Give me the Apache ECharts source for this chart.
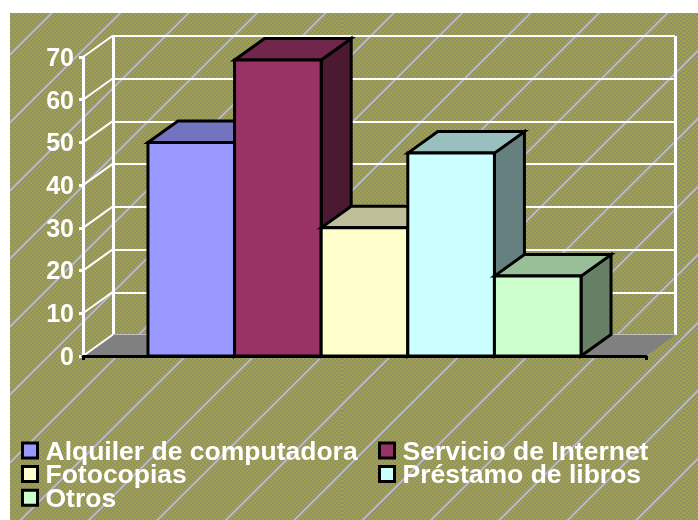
<!DOCTYPE html>
<html>
<head>
<meta charset="utf-8">
<script src="https://cdn.jsdelivr.net/npm/echarts@6/dist/echarts.min.js"></script>
<style>
html, body { margin: 0; padding: 0; background: #fff; }
#chart { width: 698px; height: 520px; }
</style>
</head>
<body>
<div id="chart"></div>
<script>
var names = ['Alquiler de computadora', 'Servicio de Internet', 'Fotocopias', 'Préstamo de libros', 'Otros'];
var values = [50, 69.3, 30, 47.5, 18.7];
var frontColors = ['#9999FF', '#993366', '#FFFFCC', '#CCFFFF', '#CCFFCC'];
var topColors = ['#7373BF', '#73264C', '#BFBF99', '#99BFBF', '#99BF99'];
var sideColors = ['#4C4C80', '#4C1933', '#808066', '#668080', '#668066'];
var yTicks = [0, 10, 20, 30, 40, 50, 60, 70];

var depthX = 30;
var depthY = -21.5;
var sideGap = 0.75;
var xMax = names.length + 2 * sideGap;
var fontName = '"Liberation Sans", Arial, sans-serif';

// textured chart area: dithered olive with diagonal gray streaks
function makeTile() {
    var w = 342, h = 340, count = 5, phase = 0.95;
    var c = document.createElement('canvas');
    c.width = w;
    c.height = h;
    var ctx = c.getContext('2d');
    for (var y = 0; y < h; y += 2) {
        for (var x = 0; x < w; x += 2) {
            ctx.fillStyle = ((x + y) / 2) % 2 ? '#90906C' : '#A2A246';
            ctx.fillRect(x, y, 2, 2);
        }
    }
    [[3.4, '#96968C'], [1.6, '#C0C0C0']].forEach(function (s) {
        ctx.strokeStyle = s[1];
        ctx.lineWidth = s[0];
        for (var n = 0; n < 2 * count; n++) {
            ctx.beginPath();
            ctx.moveTo((n + phase) * w / count, 0);
            ctx.lineTo((n + phase - count) * w / count, h);
            ctx.stroke();
        }
    });
    return c;
}

function barSeries(name, i) {
    return {
        name: name,
        type: 'custom',
        xAxisIndex: 0,
        yAxisIndex: 0,
        z: 4,
        itemStyle: { color: frontColors[i] },
        encode: { x: 0, y: 1 },
        data: [[i + sideGap, values[i]]],
        renderItem: function (params, api) {
            var a = api.coord([api.value(0), api.value(1)]);
            var b = api.coord([api.value(0) + 1, 0]);
            var l = a[0], t = a[1], r = b[0], bot = b[1];
            function poly(points, fill) {
                return {
                    type: 'polygon',
                    shape: { points: points },
                    style: { fill: fill, stroke: '#000', lineWidth: 3, lineJoin: 'miter' }
                };
            }
            return {
                type: 'group',
                children: [
                    poly([[r, t], [r + depthX, t + depthY], [r + depthX, bot + depthY], [r, bot]], sideColors[i]),
                    poly([[l, t], [l + depthX, t + depthY], [r + depthX, t + depthY], [r, t]], topColors[i]),
                    poly([[l, t], [r, t], [r, bot], [l, bot]], frontColors[i])
                ]
            };
        }
    };
}

var floorSeries = {
    type: 'custom',
    xAxisIndex: 0,
    yAxisIndex: 0,
    z: 1,
    silent: true,
    data: [[0, 0]],
    renderItem: function (params, api) {
        var a = api.coord([0, 0]);
        var b = api.coord([xMax, 0]);
        return {
            type: 'polygon',
            shape: { points: [[a[0], a[1]], [a[0] + depthX, a[1] + depthY], [b[0] + depthX, b[1] + depthY], [b[0], b[1]]] },
            style: { fill: '#808080' }
        };
    }
};

var sideWallSeries = {
    type: 'custom',
    xAxisIndex: 0,
    yAxisIndex: 0,
    z: 2,
    silent: true,
    encode: { y: 1 },
    data: yTicks.map(function (v) { return [0, v]; }),
    renderItem: function (params, api) {
        var a = api.coord([0, api.value(1)]);
        return {
            type: 'line',
            shape: { x1: a[0], y1: a[1], x2: a[0] + depthX, y2: a[1] + depthY },
            style: { stroke: '#fff', lineWidth: 2 }
        };
    }
};

// rich tokens with top padding push the text a little below the marker / tick
function lowered(size) {
    return {
        color: '#fff',
        fontFamily: fontName,
        fontWeight: 'bold',
        fontSize: size,
        padding: [4, 0, 0, 0]
    };
}

function legendBlock(left, items) {
    return {
        left: left,
        top: 439,
        orient: 'vertical',
        padding: 0,
        itemGap: -3.4,
        itemWidth: 15,
        itemHeight: 15,
        icon: 'rect',
        selectedMode: false,
        data: items,
        formatter: '{a|{name}}',
        itemStyle: { borderColor: '#000', borderWidth: 3 },
        textStyle: {
            color: '#fff',
            fontFamily: fontName,
            fontWeight: 'bold',
            fontSize: 26.5,
            padding: [0, 0, 0, 3],
            rich: { a: lowered(26.5) }
        }
    };
}

var chart = echarts.init(document.getElementById('chart'), null, { renderer: 'canvas' });

var option = {
    animation: false,
    backgroundColor: '#fff',
    graphic: [{
        type: 'rect',
        z: -10,
        silent: true,
        shape: { x: 10, y: 13, width: 688, height: 507 },
        style: { fill: { image: makeTile(), repeat: 'repeat' } }
    }],
    grid: [
        { left: 83, right: 52, top: 57, bottom: 164 },
        { left: 113, right: 23, top: 36, bottom: 185 }
    ],
    xAxis: [
        {
            gridIndex: 0, type: 'value', min: 0, max: xMax, interval: xMax, z: 6,
            axisLine: { show: true, lineStyle: { color: '#000', width: 3 } },
            axisTick: { show: true, length: 4, lineStyle: { color: '#000', width: 3 } },
            axisLabel: { show: false },
            splitLine: { show: false }
        },
        {
            gridIndex: 1, type: 'value', min: 0, max: xMax, interval: xMax,
            axisLine: { show: false },
            axisTick: { show: false },
            axisLabel: { show: false },
            splitLine: { show: true, lineStyle: { color: '#fff', width: 3 } }
        }
    ],
    yAxis: [
        {
            gridIndex: 0, type: 'value', min: 0, max: 70, interval: 10, z: 5,
            axisLine: { show: true, lineStyle: { color: '#fff', width: 3 } },
            axisTick: { show: true, length: 4, lineStyle: { color: '#fff', width: 3 } },
            axisLabel: {
                margin: 9,
                formatter: '{a|{value}}',
                rich: { a: lowered(25) },
                showMinLabel: true, showMaxLabel: true
            },
            splitLine: { show: false }
        },
        {
            gridIndex: 1, type: 'value', min: 0, max: 70, interval: 10,
            axisLine: { show: false },
            axisTick: { show: false },
            axisLabel: { show: false },
            splitLine: { show: true, lineStyle: { color: '#fff', width: 2 } }
        }
    ],
    legend: [
        legendBlock(21, [names[0], names[2], names[4]]),
        legendBlock(378, [names[1], names[3]])
    ],
    series: [floorSeries, sideWallSeries].concat(names.map(barSeries))
};

chart.setOption(option);
</script>
</body>
</html>
